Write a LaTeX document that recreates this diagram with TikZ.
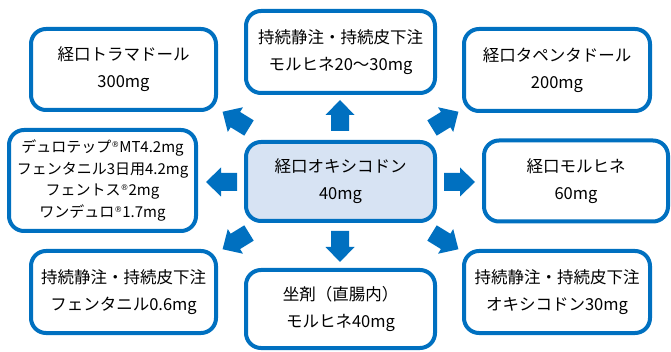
\documentclass[tikz,border=0pt]{standalone}
\usepackage{fontspec}
\setmainfont{Noto Sans CJK JP}
\newfontfamily\symfont{DejaVu Sans}
\definecolor{bblue}{HTML}{0070C0}
\definecolor{cfill}{HTML}{D7E3F3}
\newcommand{\regmark}{\raisebox{0.6ex}{\symfont\fontsize{8}{8}\selectfont ®}}
\begin{document}
\begin{tikzpicture}[x=1pt,y=-1pt,
  box/.style={draw=bblue, line width=4pt, rounded corners=15pt, fill=white,
    align=center, inner sep=0pt, text=black,
    font=\fontsize{16.5}{27}\selectfont},
  blockarrow/.pic={\fill[bblue] (0,-9) -- (16,-9) -- (16,-14.5) -- (31,0)
    -- (16,14.5) -- (16,9) -- (0,9) -- cycle;}]
\useasboundingbox (0,0) rectangle (671,352);
% boxes
\node[box, minimum width=185pt, minimum height=81pt] (tl) at (123.5,69.5)
  {経口トラマドール\\300mg};
\node[box, minimum width=189pt, minimum height=82pt] (tc) at (340.5,52)
  {持続静注・持続皮下注\\モルヒネ20～30mg};
\node[box, minimum width=186pt, minimum height=82pt] (tr) at (557,70)
  {経口タペンタドール\\200mg};
\node[box, minimum width=187pt, minimum height=101pt,
  font=\fontsize{15}{21.5}\selectfont] (lm) at (102.5,180.5)
  {デュロテップ\regmark MT4.2mg\\フェンタニル3日用4.2mg\\フェントス\regmark 2mg\\ワンデュロ\regmark 1.7mg};
\node[box, fill=cfill, minimum width=189pt, minimum height=79pt] (c) at (340.5,181.5)
  {経口オキシコドン\\40mg};
\node[box, minimum width=184pt, minimum height=81pt] (rm) at (576,181)
  {経口モルヒネ\\60mg};
\node[box, minimum width=185pt, minimum height=82pt] (bl) at (123.5,292)
  {持続静注・持続皮下注\\フェンタニル0.6mg};
\node[box, minimum width=189pt, minimum height=78pt] (bc) at (340.5,309)
  {坐剤（直腸内）\\モルヒネ40mg};
\node[box, minimum width=186pt, minimum height=82pt] (br) at (557,292)
  {持続静注・持続皮下注\\オキシコドン30mg};
% arrows
\coordinate (aup) at (340,131);
\coordinate (adn) at (340,231);
\coordinate (alt) at (237,182);
\coordinate (art) at (444,182);
\coordinate (atl) at (249,128);
\coordinate (atr) at (432,128);
\coordinate (abl) at (249,233);
\coordinate (abr) at (432,233);
\pic[rotate=90] at (aup) {blockarrow};
\pic[rotate=-90] at (adn) {blockarrow};
\pic[rotate=180] at (alt) {blockarrow};
\pic[rotate=0] at (art) {blockarrow};
\pic[rotate=148.4] at (atl) {blockarrow};
\pic[rotate=31.6] at (atr) {blockarrow};
\pic[rotate=-148.4] at (abl) {blockarrow};
\pic[rotate=-31.6] at (abr) {blockarrow};
\end{tikzpicture}
\end{document}
